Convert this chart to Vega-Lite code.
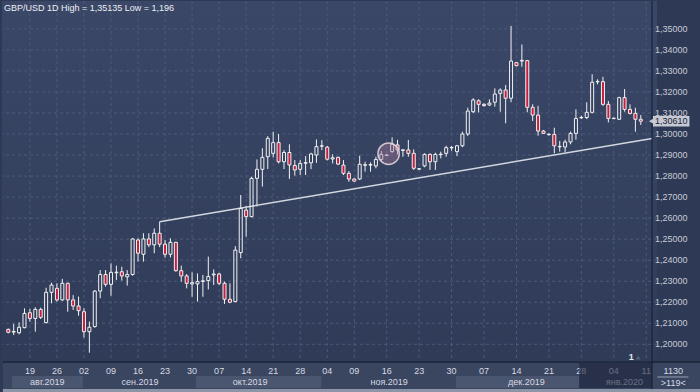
{
"$schema": "https://vega.github.io/schema/vega-lite/v6.json",
"width": 655, "height": 361,
"autosize": {"type": "none"},
"padding": {"left": 2, "top": 1, "right": 43, "bottom": 30},
"background": "#2e3a55",
"title": {"text": "GBP/USD 1D High = 1,35135 Low = 1,196", "anchor": "start", "frame": "group", "orient": "top", "offset": -12, "fontSize": 9, "fontWeight": "normal", "color": "#eef0f4", "font": "Liberation Sans", "dx": 2},
"config": {
  "font": "Liberation Sans",
  "view": {"stroke": null, "fill": {"gradient": "linear", "x1": 0, "y1": 0, "x2": 0, "y2": 1, "stops": [{"offset": 0, "color": "#3a4767"}, {"offset": 1, "color": "#2f3b57"}]}}
},
"datasets": {
  "candles": [
    {"k":0,"o":1.2071,"h":1.2075,"l":1.2052,"c":1.2057},
    {"k":1,"o":1.2058,"h":1.2097,"l":1.2044,"c":1.2061},
    {"k":2,"o":1.2055,"h":1.2104,"l":1.2047,"c":1.2081},
    {"k":3,"o":1.2079,"h":1.2171,"l":1.2076,"c":1.2147},
    {"k":4,"o":1.2150,"h":1.2168,"l":1.2108,"c":1.2123},
    {"k":5,"o":1.2123,"h":1.2176,"l":1.2060,"c":1.2166},
    {"k":6,"o":1.2166,"h":1.2174,"l":1.2120,"c":1.2128},
    {"k":7,"o":1.2103,"h":1.2269,"l":1.2100,"c":1.2247},
    {"k":8,"o":1.2247,"h":1.2293,"l":1.2195,"c":1.2282},
    {"k":9,"o":1.2266,"h":1.2290,"l":1.2203,"c":1.2211},
    {"k":10,"o":1.2211,"h":1.2311,"l":1.2206,"c":1.2290},
    {"k":11,"o":1.2290,"h":1.2293,"l":1.2155,"c":1.2211},
    {"k":12,"o":1.2211,"h":1.2234,"l":1.2163,"c":1.2182},
    {"k":13,"o":1.2182,"h":1.2227,"l":1.2136,"c":1.2160},
    {"k":14,"o":1.2155,"h":1.2171,"l":1.2032,"c":1.2060},
    {"k":15,"o":1.2060,"h":1.2108,"l":1.1960,"c":1.2081},
    {"k":16,"o":1.2084,"h":1.2258,"l":1.2079,"c":1.2253},
    {"k":17,"o":1.2253,"h":1.2353,"l":1.2219,"c":1.2332},
    {"k":18,"o":1.2332,"h":1.2353,"l":1.2274,"c":1.2285},
    {"k":19,"o":1.2285,"h":1.2385,"l":1.2231,"c":1.2342},
    {"k":20,"o":1.2340,"h":1.2374,"l":1.2306,"c":1.2343},
    {"k":21,"o":1.2345,"h":1.2369,"l":1.2303,"c":1.2325},
    {"k":22,"o":1.2321,"h":1.2353,"l":1.2279,"c":1.2332},
    {"k":23,"o":1.2332,"h":1.2504,"l":1.2326,"c":1.2501},
    {"k":24,"o":1.2496,"h":1.2504,"l":1.2393,"c":1.2433},
    {"k":25,"o":1.2428,"h":1.2528,"l":1.2393,"c":1.2501},
    {"k":26,"o":1.2501,"h":1.2528,"l":1.2462,"c":1.2473},
    {"k":27,"o":1.2473,"h":1.2551,"l":1.2433,"c":1.2528},
    {"k":28,"o":1.2528,"h":1.2583,"l":1.2462,"c":1.2476},
    {"k":29,"o":1.2476,"h":1.2496,"l":1.2412,"c":1.2428},
    {"k":30,"o":1.2428,"h":1.2504,"l":1.2413,"c":1.2485},
    {"k":31,"o":1.2485,"h":1.2487,"l":1.2345,"c":1.2350},
    {"k":32,"o":1.2350,"h":1.2374,"l":1.2298,"c":1.2325},
    {"k":33,"o":1.2325,"h":1.2334,"l":1.2266,"c":1.2290},
    {"k":34,"o":1.2287,"h":1.2342,"l":1.2226,"c":1.2293},
    {"k":35,"o":1.2287,"h":1.2337,"l":1.2203,"c":1.2298},
    {"k":36,"o":1.2299,"h":1.2330,"l":1.2226,"c":1.2302},
    {"k":37,"o":1.2303,"h":1.2417,"l":1.2261,"c":1.2322},
    {"k":38,"o":1.2330,"h":1.2356,"l":1.2282,"c":1.2334},
    {"k":39,"o":1.2334,"h":1.2340,"l":1.2282,"c":1.2290},
    {"k":40,"o":1.2290,"h":1.2298,"l":1.2192,"c":1.2214},
    {"k":41,"o":1.2214,"h":1.2290,"l":1.2195,"c":1.2200},
    {"k":42,"o":1.2203,"h":1.2467,"l":1.2200,"c":1.2448},
    {"k":43,"o":1.2436,"h":1.2710,"l":1.2409,"c":1.2646},
    {"k":44,"o":1.2638,"h":1.2658,"l":1.2512,"c":1.2607},
    {"k":45,"o":1.2607,"h":1.2797,"l":1.2604,"c":1.2789},
    {"k":46,"o":1.2789,"h":1.2879,"l":1.2655,"c":1.2832},
    {"k":47,"o":1.2832,"h":1.2932,"l":1.2750,"c":1.2889},
    {"k":48,"o":1.2892,"h":1.2990,"l":1.2833,"c":1.2979},
    {"k":49,"o":1.2908,"h":1.3011,"l":1.2889,"c":1.2959},
    {"k":50,"o":1.2959,"h":1.3000,"l":1.2860,"c":1.2868},
    {"k":51,"o":1.2868,"h":1.2923,"l":1.2833,"c":1.2912},
    {"k":52,"o":1.2912,"h":1.2951,"l":1.2786,"c":1.2853},
    {"k":53,"o":1.2850,"h":1.2876,"l":1.2802,"c":1.2829},
    {"k":54,"o":1.2832,"h":1.2876,"l":1.2805,"c":1.2860},
    {"k":55,"o":1.2861,"h":1.2895,"l":1.2805,"c":1.2864},
    {"k":56,"o":1.2863,"h":1.2911,"l":1.2833,"c":1.2905},
    {"k":57,"o":1.2900,"h":1.2974,"l":1.2863,"c":1.2940},
    {"k":58,"o":1.2942,"h":1.2971,"l":1.2923,"c":1.2944},
    {"k":59,"o":1.2937,"h":1.2943,"l":1.2874,"c":1.2880},
    {"k":60,"o":1.2881,"h":1.2903,"l":1.2860,"c":1.2887},
    {"k":61,"o":1.2889,"h":1.2892,"l":1.2852,"c":1.2857},
    {"k":62,"o":1.2852,"h":1.2876,"l":1.2805,"c":1.2813},
    {"k":63,"o":1.2813,"h":1.2824,"l":1.2773,"c":1.2786},
    {"k":64,"o":1.2786,"h":1.2789,"l":1.2773,"c":1.2776},
    {"k":65,"o":1.2786,"h":1.2897,"l":1.2781,"c":1.2856},
    {"k":66,"o":1.2851,"h":1.2868,"l":1.2821,"c":1.2854},
    {"k":67,"o":1.2852,"h":1.2865,"l":1.2821,"c":1.2855},
    {"k":68,"o":1.2848,"h":1.2892,"l":1.2837,"c":1.2879},
    {"k":69,"o":1.2879,"h":1.2919,"l":1.2871,"c":1.2903},
    {"k":70,"o":1.2898,"h":1.2903,"l":1.2897,"c":1.2900},
    {"k":71,"o":1.2916,"h":1.2984,"l":1.2911,"c":1.2951},
    {"k":72,"o":1.2948,"h":1.2972,"l":1.2903,"c":1.2924},
    {"k":73,"o":1.2922,"h":1.2927,"l":1.2892,"c":1.2925},
    {"k":74,"o":1.2924,"h":1.2972,"l":1.2892,"c":1.2908},
    {"k":75,"o":1.2908,"h":1.2927,"l":1.2829,"c":1.2837},
    {"k":76,"o":1.2833,"h":1.2837,"l":1.2829,"c":1.2835},
    {"k":77,"o":1.2848,"h":1.2908,"l":1.2842,"c":1.2903},
    {"k":78,"o":1.2903,"h":1.2908,"l":1.2829,"c":1.2868},
    {"k":79,"o":1.2868,"h":1.2911,"l":1.2829,"c":1.2903},
    {"k":80,"o":1.2902,"h":1.2916,"l":1.2884,"c":1.2904},
    {"k":81,"o":1.2908,"h":1.2944,"l":1.2892,"c":1.2935},
    {"k":82,"o":1.2934,"h":1.2943,"l":1.2920,"c":1.2936},
    {"k":83,"o":1.2916,"h":1.2948,"l":1.2895,"c":1.2944},
    {"k":84,"o":1.2944,"h":1.3011,"l":1.2937,"c":1.3000},
    {"k":85,"o":1.3000,"h":1.3125,"l":1.2990,"c":1.3109},
    {"k":86,"o":1.3106,"h":1.3170,"l":1.3099,"c":1.3162},
    {"k":87,"o":1.3158,"h":1.3165,"l":1.3102,"c":1.3141},
    {"k":88,"o":1.3141,"h":1.3146,"l":1.3130,"c":1.3135},
    {"k":89,"o":1.3138,"h":1.3165,"l":1.3133,"c":1.3147},
    {"k":90,"o":1.3151,"h":1.3217,"l":1.3130,"c":1.3190},
    {"k":91,"o":1.3193,"h":1.3217,"l":1.3106,"c":1.3209},
    {"k":92,"o":1.3209,"h":1.3233,"l":1.3051,"c":1.3170},
    {"k":93,"o":1.3170,"h":1.3514,"l":1.3151,"c":1.3347},
    {"k":94,"o":1.3339,"h":1.3342,"l":1.3322,"c":1.3325},
    {"k":95,"o":1.3347,"h":1.3426,"l":1.3320,"c":1.3350},
    {"k":96,"o":1.3349,"h":1.3352,"l":1.3103,"c":1.3127},
    {"k":97,"o":1.3127,"h":1.3141,"l":1.3062,"c":1.3090},
    {"k":98,"o":1.3090,"h":1.3134,"l":1.2992,"c":1.3014},
    {"k":99,"o":1.3014,"h":1.3019,"l":1.3000,"c":1.3003},
    {"k":100,"o":1.2997,"h":1.3003,"l":1.2992,"c":1.2999},
    {"k":101,"o":1.2998,"h":1.3030,"l":1.2908,"c":1.2944},
    {"k":102,"o":1.2939,"h":1.2967,"l":1.2916,"c":1.2941},
    {"k":103,"o":1.2938,"h":1.2973,"l":1.2913,"c":1.2962},
    {"k":104,"o":1.2962,"h":1.3011,"l":1.2951,"c":1.3003},
    {"k":105,"o":1.3003,"h":1.3117,"l":1.2973,"c":1.3074},
    {"k":106,"o":1.3077,"h":1.3087,"l":1.3071,"c":1.3079},
    {"k":107,"o":1.3078,"h":1.3151,"l":1.3071,"c":1.3103},
    {"k":108,"o":1.3103,"h":1.3284,"l":1.3098,"c":1.3246},
    {"k":109,"o":1.3248,"h":1.3260,"l":1.3236,"c":1.3250},
    {"k":110,"o":1.3249,"h":1.3272,"l":1.3134,"c":1.3141},
    {"k":111,"o":1.3141,"h":1.3157,"l":1.3055,"c":1.3074},
    {"k":112,"o":1.3073,"h":1.3079,"l":1.3071,"c":1.3075},
    {"k":113,"o":1.3070,"h":1.3177,"l":1.3067,"c":1.3173},
    {"k":114,"o":1.3173,"h":1.3214,"l":1.3106,"c":1.3117},
    {"k":115,"o":1.3117,"h":1.3141,"l":1.3093,"c":1.3098},
    {"k":116,"o":1.3098,"h":1.3125,"l":1.3011,"c":1.3070},
    {"k":117,"o":1.3070,"h":1.3090,"l":1.3043,"c":1.3061}
  ],
  "levels": [
    {"v":1.20,"t":"1,20000"},{"v":1.21,"t":"1,21000"},{"v":1.22,"t":"1,22000"},{"v":1.23,"t":"1,23000"},
    {"v":1.24,"t":"1,24000"},{"v":1.25,"t":"1,25000"},{"v":1.26,"t":"1,26000"},{"v":1.27,"t":"1,27000"},
    {"v":1.28,"t":"1,28000"},{"v":1.29,"t":"1,29000"},{"v":1.30,"t":"1,30000"},{"v":1.31,"t":"1,31000"},
    {"v":1.32,"t":"1,32000"},{"v":1.33,"t":"1,33000"},{"v":1.34,"t":"1,34000"},{"v":1.35,"t":"1,35000"}
  ],
  "ticks": [
    {"k":4,"t":"19"},{"k":9,"t":"26"},{"k":14,"t":"02"},{"k":19,"t":"09"},{"k":24,"t":"16"},{"k":29,"t":"23"},{"k":34,"t":"30"},{"k":39,"t":"07"},{"k":44,"t":"14"},{"k":49,"t":"21"},{"k":54,"t":"28"},{"k":59,"t":"04"},{"k":64,"t":"09"},{"k":70,"t":"16"},{"k":76,"t":"23"},{"k":82,"t":"30"},{"k":88,"t":"07"},{"k":94,"t":"14"},{"k":100,"t":"21"},{"k":106,"t":"28"},{"k":112,"t":"04"},{"k":118,"t":"11"}
  ],
  "months": [
    {"m":"авг.2019","k1":0.67,"k2":13.8,"kc":7.23,"band":1},
    {"m":"сен.2019","k1":13.8,"k2":34.7,"kc":24.35,"band":0},
    {"m":"окт.2019","k1":34.7,"k2":57.9,"kc":44.75,"band":1},
    {"m":"ноя.2019","k1":57.9,"k2":82.8,"kc":70.44,"band":0},
    {"m":"дек.2019","k1":82.8,"k2":105.6,"kc":95.85,"band":1},
    {"m":"янв.2020","k1":105.6,"k2":119.07,"kc":113.97,"band":0}
  ],
  "trend": [{"k":28,"p":1.2583},{"k":119.07,"p":1.2979}]
},
"layer": [
  {
    "data": {"name": "levels"},
    "mark": {"type": "rule", "color": "#4d5a79", "strokeWidth": 1, "strokeDash": [3, 3]},
    "encoding": {
      "y": {"field": "v", "type": "quantitative", "axis": null, "scale": {"domain": [1.19158, 1.36324], "nice": false, "zero": false}}
    }
  },
  {
    "data": {"name": "ticks"},
    "mark": {"type": "rule", "color": "#4d5a79", "strokeWidth": 1, "strokeDash": [3, 3]},
    "encoding": {
      "x": {"field": "k", "type": "quantitative", "axis": null, "scale": {"domain": [-0.237, 119.07], "nice": false, "zero": false}}
    }
  },
  {
    "data": {"name": "candles"},
    "transform": [{"calculate": "max(datum.o, datum.c)", "as": "top"}],
    "mark": {"type": "rule", "color": "#f2f2f2", "strokeWidth": 1},
    "encoding": {
      "x": {"field": "k", "type": "quantitative", "axis": null},
      "y": {"field": "h", "type": "quantitative", "axis": null},
      "y2": {"field": "top"}
    }
  },
  {
    "data": {"name": "candles"},
    "transform": [{"calculate": "min(datum.o, datum.c)", "as": "bot"}],
    "mark": {"type": "rule", "color": "#f2f2f2", "strokeWidth": 1},
    "encoding": {
      "x": {"field": "k", "type": "quantitative", "axis": null},
      "y": {"field": "bot", "type": "quantitative", "axis": null},
      "y2": {"field": "l"}
    }
  },
  {
    "data": {"name": "trend"},
    "mark": {"type": "line", "color": "#d3d7df", "strokeWidth": 1.5},
    "encoding": {
      "x": {"field": "k", "type": "quantitative", "axis": null},
      "y": {"field": "p", "type": "quantitative", "axis": null}
    }
  },
  {
    "data": {"name": "candles"},
    "mark": {"type": "bar", "size": 3, "stroke": "#f2f2f2", "strokeWidth": 1},
    "encoding": {
      "x": {"field": "k", "type": "quantitative", "axis": null},
      "y": {"field": "o", "type": "quantitative", "axis": null},
      "y2": {"field": "c"},
      "fill": {"condition": {"test": "datum.c < datum.o", "value": "#c41f3e"}, "value": "rgba(0,0,0,0)"}
    }
  },
  {
    "data": {"values": [{"k": 70.35, "p": 1.29063}]},
    "mark": {"type": "point", "shape": "circle", "size": 460, "filled": true, "fill": "#a27899", "fillOpacity": 0.42, "stroke": "#e6d8e2", "strokeWidth": 1.5, "strokeOpacity": 0.85},
    "encoding": {
      "x": {"field": "k", "type": "quantitative", "axis": null},
      "y": {"field": "p", "type": "quantitative", "axis": null}
    }
  },
  {
    "data": {"name": "levels"},
    "mark": {"type": "text", "fontSize": 9, "color": "#c6cbd5", "align": "left", "baseline": "middle"},
    "encoding": {
      "x": {"datum": 119.62, "type": "quantitative", "axis": null},
      "y": {"field": "v", "type": "quantitative", "axis": null},
      "text": {"field": "t"}
    }
  },
  {
    "data": {"values": [{"a": 1}]},
    "mark": {"type": "rect", "fill": "#3a4560"},
    "encoding": {
      "x": {"datum": -1, "type": "quantitative", "axis": null},
      "x2": {"datum": 128},
      "y": {"datum": 1.19111, "type": "quantitative", "axis": null},
      "y2": {"datum": 1.17874}
    }
  },
  {
    "data": {"values": [{"a": 1}]},
    "mark": {"type": "rect", "fill": "#8c95a8"},
    "encoding": {
      "x": {"datum": -1, "type": "quantitative", "axis": null},
      "x2": {"datum": 128},
      "y": {"datum": 1.17874, "type": "quantitative", "axis": null},
      "y2": {"datum": 1.17731}
    }
  },
  {
    "data": {"name": "months"},
    "transform": [{"filter": "datum.band == 1"}],
    "mark": {"type": "rect", "fill": "#4a556f"},
    "encoding": {
      "x": {"field": "k1", "type": "quantitative", "axis": null},
      "x2": {"field": "k2"},
      "y": {"datum": 1.18492, "type": "quantitative", "axis": null},
      "y2": {"datum": 1.17922}
    }
  },
  {
    "data": {"name": "ticks"},
    "mark": {"type": "text", "fontSize": 9, "color": "#d6dae2", "align": "center", "baseline": "middle"},
    "encoding": {
      "x": {"field": "k", "type": "quantitative", "axis": null},
      "y": {"datum": 1.18730, "type": "quantitative", "axis": null},
      "text": {"field": "t"}
    }
  },
  {
    "data": {"name": "months"},
    "mark": {"type": "text", "fontSize": 9, "color": "#d6dae2", "align": "center", "baseline": "middle"},
    "encoding": {
      "x": {"field": "kc", "type": "quantitative", "axis": null},
      "y": {"datum": 1.18207, "type": "quantitative", "axis": null},
      "text": {"field": "m"}
    }
  },
  {
    "data": {"values": [{"a": 1}]},
    "mark": {"type": "rect", "fill": "#1c243a", "opacity": 0.6},
    "encoding": {
      "x": {"datum": 105.6, "type": "quantitative", "axis": null},
      "x2": {"datum": 119.07},
      "y": {"datum": 1.19111, "type": "quantitative", "axis": null},
      "y2": {"datum": 1.17922}
    }
  },
  {
    "data": {"values": [{"a": 1}]},
    "mark": {"type": "rule", "color": "#151c2c", "strokeWidth": 1},
    "encoding": {
      "x": {"datum": 119.07, "type": "quantitative", "axis": null},
      "y": {"datum": 1.36324, "type": "quantitative", "axis": null},
      "y2": {"datum": 1.17874}
    }
  },
  {
    "data": {"values": [{"a": 1}]},
    "mark": {"type": "rule", "color": "#151c2c", "strokeWidth": 1},
    "encoding": {
      "x": {"datum": -1, "type": "quantitative", "axis": null},
      "x2": {"datum": 128},
      "y": {"datum": 1.19158, "type": "quantitative", "axis": null}
    }
  },
  {
    "data": {"values": [{"a": 1}]},
    "mark": {"type": "rule", "color": "#9aa2b2", "strokeWidth": 1},
    "encoding": {
      "x": {"datum": 120.06, "type": "quantitative", "axis": null},
      "x2": {"datum": 125.8},
      "y": {"datum": 1.18445, "type": "quantitative", "axis": null}
    }
  },
  {
    "data": {"values": [{"t": "1130", "p": 1.18730}, {"t": ">119<", "p": 1.18159}]},
    "mark": {"type": "text", "fontSize": 9, "color": "#d6dae2", "align": "center", "baseline": "middle"},
    "encoding": {
      "x": {"datum": 123.0, "type": "quantitative", "axis": null},
      "y": {"field": "p", "type": "quantitative", "axis": null},
      "text": {"field": "t"}
    }
  },
  {
    "data": {"values": [{"a": 1}]},
    "mark": {"type": "rect", "fill": "#c4c9d3"},
    "encoding": {
      "x": {"datum": 119.25, "type": "quantitative", "axis": null},
      "x2": {"datum": 125.99},
      "y": {"datum": 1.30856, "type": "quantitative", "axis": null},
      "y2": {"datum": 1.30357}
    }
  },
  {
    "data": {"values": [{"p": 1.3061}]},
    "mark": {"type": "point", "shape": "triangle-left", "size": 40, "filled": true, "fill": "#c4c9d3", "opacity": 1},
    "encoding": {
      "x": {"datum": 119.0, "type": "quantitative", "axis": null},
      "y": {"field": "p", "type": "quantitative", "axis": null}
    }
  },
  {
    "data": {"values": [{"t": "1,30610", "p": 1.3061}]},
    "mark": {"type": "text", "fontSize": 9, "color": "#1b2232", "align": "center", "baseline": "middle"},
    "encoding": {
      "x": {"datum": 122.62, "type": "quantitative", "axis": null},
      "y": {"field": "p", "type": "quantitative", "axis": null},
      "text": {"field": "t"}
    }
  },
  {
    "data": {"values": [{"t": "1", "p": 1.19396}]},
    "mark": {"type": "text", "fontSize": 9, "fontWeight": "bold", "color": "#e4e6ea", "align": "center", "baseline": "middle"},
    "encoding": {
      "x": {"datum": 115.25, "type": "quantitative", "axis": null},
      "y": {"field": "p", "type": "quantitative", "axis": null},
      "text": {"field": "t"}
    }
  },
  {
    "data": {"values": [{"p": 1.1937}]},
    "mark": {"type": "point", "shape": "triangle-up", "size": 22, "filled": true, "fill": "#56617b", "opacity": 1},
    "encoding": {
      "x": {"datum": 116.5, "type": "quantitative", "axis": null},
      "y": {"field": "p", "type": "quantitative", "axis": null}
    }
  }
]
}
